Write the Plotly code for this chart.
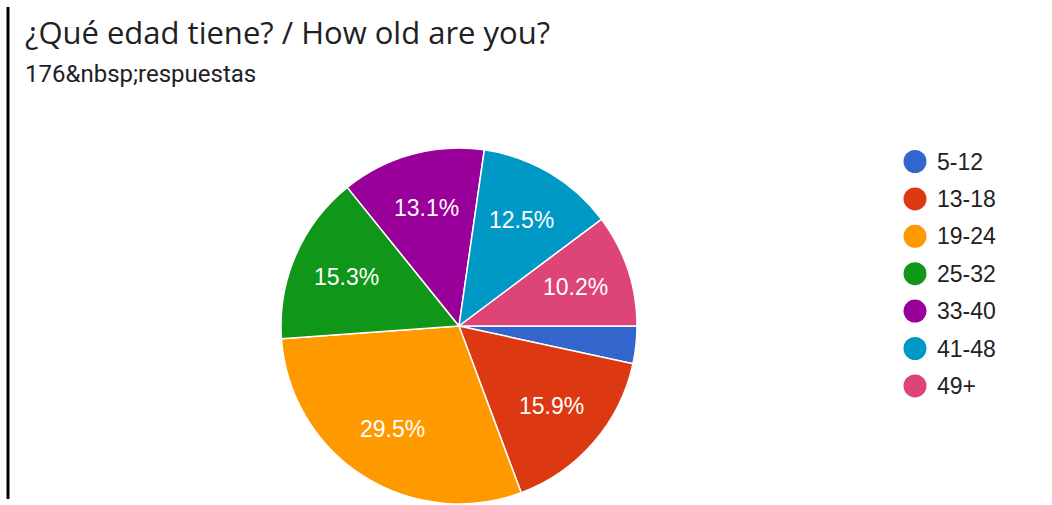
import math
import plotly.graph_objects as go

labels = ["5-12", "13-18", "19-24", "25-32", "33-40", "41-48", "49+"]
counts = [6, 28, 52, 27, 23, 22, 18]
colors = ["#3366cc", "#dc3912", "#ff9900", "#109618", "#990099", "#0099c6", "#dd4477"]
title_text = "¿Qué edad tiene? / How old are you?"
subtitle_text = "176&amp;nbsp;respuestas"

W, H = 1052, 505
cx, cy, R = 459, 326, 178

total = sum(counts)

fig = go.Figure()
fig.add_trace(go.Pie(
    labels=labels, values=counts, sort=False, direction="clockwise", rotation=90,
    marker=dict(colors=colors, line=dict(color="white", width=1.5)),
    textinfo="none",
    showlegend=False, hoverinfo="label+percent",
    domain=dict(x=[(cx - R) / W, (cx + R) / W], y=[(H - cy - R) / H, (H - cy + R) / H]),
))

shapes = [dict(type="line", xref="paper", yref="paper", x0=8 / W, x1=8 / W,
               y0=1 - 7 / H, y1=1 - 499 / H, line=dict(color="black", width=3))]
annotations = [
    dict(text=title_text, x=23 / W, y=1 - 32 / H, xref="paper", yref="paper",
         xanchor="left", yanchor="middle", showarrow=False,
         font=dict(family="Open Sans", size=31, color="#202124")),
    dict(text=subtitle_text, x=23 / W, y=1 - 74 / H, xref="paper", yref="paper",
         xanchor="left", yanchor="middle", showarrow=False,
         font=dict(family="Roboto", size=24, color="#202124")),
]

# slice percentage labels, placed along each slice's mid-angle (clockwise from 3 o'clock)
cum = 0
for c in counts:
    frac = c / total
    mid = (cum + frac / 2) * 2 * math.pi
    cum += frac
    if frac < 0.05:
        continue
    px = cx + 0.69 * R * math.cos(mid)
    py = cy + 0.69 * R * math.sin(mid)
    annotations.append(dict(text=f"{100*frac:.1f}%", x=px / W, y=1 - py / H,
                            xref="paper", yref="paper", xanchor="center", yanchor="middle",
                            showarrow=False,
                            font=dict(family="Arial, Liberation Sans", size=23, color="white")))

lx, ly0, dy, r = 915, 161.5, 37.4, 11.5
for i, (lab, col) in enumerate(zip(labels, colors)):
    y = ly0 + i * dy
    shapes.append(dict(type="circle", xref="paper", yref="paper",
                       x0=(lx - r) / W, x1=(lx + r) / W, y0=1 - (y + r) / H, y1=1 - (y - r) / H,
                       fillcolor=col, line=dict(width=0)))
    annotations.append(dict(text=lab, x=935 / W, y=1 - y / H, xref="paper", yref="paper",
                            xanchor="left", yanchor="middle", showarrow=False,
                            font=dict(family="Arial, Liberation Sans", size=23, color="#222222")))

fig.update_layout(width=W, height=H, margin=dict(l=0, r=0, t=0, b=0),
                  paper_bgcolor="white", plot_bgcolor="white",
                  shapes=shapes, annotations=annotations)
fig.write_html("out.html")
